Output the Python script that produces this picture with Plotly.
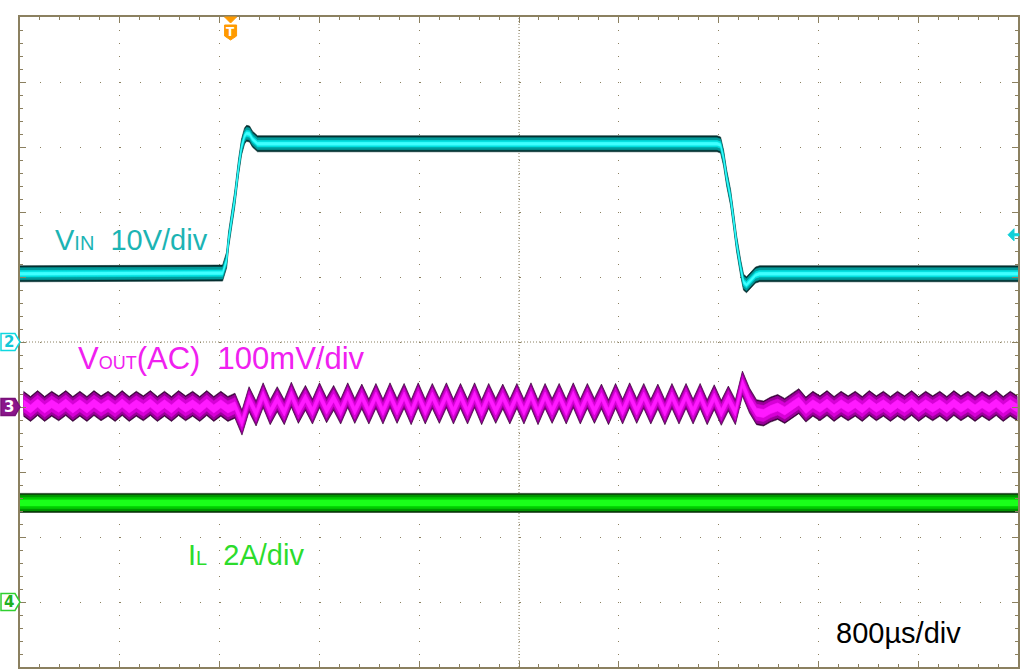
import plotly.graph_objects as go

# ---------------- scope settings ----------------
TIME_PER_DIV_US = 800.0
N_DIV_X = 10
N_DIV_Y = 10
T_LEFT_US = -1688.0                      # left screen edge relative to trigger
T_RIGHT_US = T_LEFT_US + N_DIV_X * TIME_PER_DIV_US

VIN_V_PER_DIV = 10.0
VIN_POS_DIV = 0.0
VOUT_MV_PER_DIV = 100.0
VOUT_POS_DIV = -1.0
IL_A_PER_DIV = 2.0
IL_POS_DIV = -4.0
TRIG_LEVEL_V = 16.5

vin_time_us = [-1688, -80, -64, -32, -16, 8, 32, 64, 88, 112, 128, 152, 176, 216,
               3900, 3928, 3952, 3976, 4008, 4032, 4056, 4088, 4112, 4136, 4168, 4208, 4240, 6312]
vin_v = [10.5, 10.5, 10.6, 12.6, 15.7, 18.8, 21.8, 26.9, 30.0, 31.7, 32.1, 32.0, 31.2, 30.5,
         30.5, 30.3, 28.3, 25.3, 22.2, 18.8, 15.2, 11.5, 9.2, 8.8, 9.5, 10.3, 10.5, 10.5]

vout_t0_us = -1660.0
vout_sample_us = 56.5
vout_mv = [
    5, -3, 6, -3, 5, -2, 6, -3, 5, -3, 6, -2, 5, -3, 6, -3, 5, -2, 6, -3, 5, -3, 6, -2, 5, -3, 6, -3, 5, -3,
    2, -24, 12, -10, 18, -8, 12, -8, 19, -6, 14, -7, 18, -5, 14, -7,
    18, -6, 16, -7, 17, -7, 18, -6, 17, -8, 18, -7, 17, -6, 18, -7,
    17, -7, 18, -8, 17, -6, 16, -7, 17, -7, 18, -8, 17, -6, 17, -7,
    18, -7, 17, -6, 16, -8, 17, -7, 18, -6, 17, -7, 16, -8, 17, -7,
    17, -7, 17, -8, 15, -9, 13, -8,
    36, 10, -8, -10, -4, 0, -6, 2, 9, -4,
    5, -2, 6, -3, 5, -2, 5, -3, 6, -2, 5, -3, 5, -2, 6, -3, 5, -2, 5, -3, 6, -2, 5, -3, 5, -2, 6, -3, 5, -2,
]
vout_time_us = [vout_t0_us + k * vout_sample_us for k in range(len(vout_mv))]

il_time_us = [T_LEFT_US, T_RIGHT_US]
il_a = [3.05, 3.05]

# ---------------- styling ----------------
FRAME = "#8b8060"
GRID = "#8b8060"
PLOT_W, PLOT_H = 1000, 650
ML, MT = 20, 17
PX_PER_DIV_Y = PLOT_H / N_DIV_Y
FONT = "Liberation Sans, Arial, sans-serif"

fig = go.Figure()


def add_band(t, ydiv, layers):
    for half_px, color in layers:
        h = half_px / PX_PER_DIV_Y
        fig.add_trace(go.Scatter(x=t, y=[v - h for v in ydiv], mode="lines",
                                 line=dict(width=0.6, color=color),
                                 hoverinfo="skip", showlegend=False))
        fig.add_trace(go.Scatter(x=t, y=[v + h for v in ydiv], mode="lines",
                                 line=dict(width=0.6, color=color), fill="tonexty",
                                 fillcolor=color, hoverinfo="skip", showlegend=False))


vin_div = [VIN_POS_DIV + v / VIN_V_PER_DIV for v in vin_v]
vout_div = [VOUT_POS_DIV + v / VOUT_MV_PER_DIV for v in vout_mv]
il_div = [IL_POS_DIV + v / IL_A_PER_DIV for v in il_a]

add_band(vin_time_us, vin_div, [(8.0, "#042f30"), (6.0, "#009c9c"), (3.2, "#00e0e0"), (1.4, "#40ffff")])
add_band(vout_time_us, vout_div, [(12.5, "#360036"), (11, "#9a009a"), (8, "#d600d6"), (4, "#ff1aff")])
add_band(il_time_us, il_div, [(9.5, "#082e08"), (8, "#009400"), (5.5, "#00cc00"), (3, "#1aff1a")])


def px2paper(x, y):
    return (x - ML) / PLOT_W, (MT + PLOT_H - y) / PLOT_H


annotations = []


def label(text, xpx, ypx, color, size=29):
    px, py = px2paper(xpx, ypx)
    annotations.append(dict(text=text, x=px, y=py, xref="paper", yref="paper",
                            xanchor="left", yanchor="middle", showarrow=False,
                            font=dict(family=FONT, size=size, color=color)))


label("V<span style='font-size:20px'>IN</span>\u00a0\u00a010V/div", 53, 240, "#1cb4b4")
label("V<span style='font-size:18px'>OUT</span>(AC)\u00a0\u00a0100mV/div", 76, 358, "#f020f0", size=31)
label("I<span style='font-size:20px'>L</span>\u00a0\u00a02A/div", 186, 555, "#2cdc2c")
label("800\u00b5s/div", 836, 633, "#000000")

shapes = []
T_CENTER = T_LEFT_US + N_DIV_X / 2 * TIME_PER_DIV_US
# dense dotted centre lines
shapes.append(dict(type="line", xref="x", yref="paper", x0=T_CENTER, x1=T_CENTER, y0=0, y1=1,
                   line=dict(color=GRID, width=1, dash="1px,2px"), layer="below"))
shapes.append(dict(type="line", xref="paper", yref="y", x0=0, x1=1, y0=0, y1=0,
                   line=dict(color=GRID, width=1, dash="1px,2px"), layer="below"))

# channel ground markers
PENT = "M -19,8.5 L -5,8.5 L 0,0 L -5,-8.5 L -19,-8.5 Z"
for pos, line_c, fill_c, txt, txt_c in [
    (VIN_POS_DIV, "#10d8e0", "white", "2", "#10c8d8"),
    (VOUT_POS_DIV, "#7a107a", "#8a168a", "3", "white"),
    (IL_POS_DIV, "#30d030", "white", "4", "#20b020"),
]:
    shapes.append(dict(type="path", xref="paper", yref="y", xsizemode="pixel", ysizemode="pixel",
                       xanchor=0, yanchor=pos, path=PENT, fillcolor=fill_c,
                       line=dict(color=line_c, width=1.5)))
    annotations.append(dict(text=txt, x=0, y=pos, xref="paper", yref="y", xshift=-11,
                            showarrow=False, xanchor="center", yanchor="middle",
                            font=dict(family="DejaVu Sans, sans-serif", size=15, color=txt_c, weight="bold")))

# trigger position marker
shapes.append(dict(type="path", xref="x", yref="paper", xsizemode="pixel", ysizemode="pixel",
                   xanchor=0, yanchor=1, path="M -6,0 L 6,0 L 0,-6 Z",
                   fillcolor="#ff9a00", line=dict(color="#ff9a00", width=1)))
shapes.append(dict(type="path", xref="x", yref="paper", xsizemode="pixel", ysizemode="pixel",
                   xanchor=0, yanchor=1, path="M -6,-8 L 6,-8 L 6,-19 L 0,-23 L -6,-19 Z",
                   fillcolor="#ff9a00", line=dict(color="#ff9a00", width=1)))
annotations.append(dict(text="T", x=0, y=1, xref="x", yref="paper", yshift=-15, showarrow=False,
                        xanchor="center", yanchor="middle",
                        font=dict(family="DejaVu Sans, sans-serif", size=12, color="white", weight="bold")))

# trigger level arrow (right edge)
shapes.append(dict(type="path", xref="paper", yref="y", xsizemode="pixel", ysizemode="pixel",
                   xanchor=1, yanchor=VIN_POS_DIV + TRIG_LEVEL_V / VIN_V_PER_DIV,
                   path="M -10,0 L -4,6 L -4,1 L 1,1 L 1,-1 L -4,-1 L -4,-6 Z",
                   fillcolor="#10d0d8", line=dict(color="#10d0d8", width=1)))

xr = [T_LEFT_US, T_RIGHT_US]
yr = [-N_DIV_Y / 2, N_DIV_Y / 2]
common_hidden = dict(showgrid=False, zeroline=False, showticklabels=False, showline=False,
                     fixedrange=True, tickcolor=GRID, ticklen=3, tickwidth=1)

fig.update_layout(
    width=1024, height=671,
    margin=dict(l=ML, r=1024 - ML - PLOT_W, t=MT, b=671 - MT - PLOT_H),
    paper_bgcolor="white", plot_bgcolor="white", showlegend=False,
    xaxis=dict(range=xr, tick0=T_LEFT_US, dtick=TIME_PER_DIV_US, showgrid=True,
               gridcolor=GRID, gridwidth=1, griddash="1px,12px",
               showline=True, linecolor=FRAME, linewidth=2, mirror="allticks",
               ticks="inside", ticklen=6, tickcolor=GRID, showticklabels=False,
               zeroline=False, fixedrange=True,
               minor=dict(tick0=T_LEFT_US, dtick=TIME_PER_DIV_US / 5, ticks="inside",
                          ticklen=3, tickcolor=GRID, showgrid=False)),
    yaxis=dict(range=yr, tick0=0, dtick=1, showgrid=True,
               gridcolor=GRID, gridwidth=1, griddash="1px,19px",
               showline=True, linecolor=FRAME, linewidth=2, mirror="allticks",
               ticks="inside", ticklen=6, tickcolor=GRID, showticklabels=False,
               zeroline=False, fixedrange=True,
               minor=dict(tick0=0, dtick=0.2, ticks="inside", ticklen=3,
                          tickcolor=GRID, showgrid=False)),
    xaxis2=dict(overlaying="x", anchor="free", position=0.5, side="bottom", range=xr,
                tick0=T_LEFT_US, dtick=TIME_PER_DIV_US / 5, ticks="outside", **common_hidden),
    xaxis3=dict(overlaying="x", anchor="free", position=0.5, side="top", range=xr,
                tick0=T_LEFT_US, dtick=TIME_PER_DIV_US / 5, ticks="outside", **common_hidden),
    yaxis2=dict(overlaying="y", anchor="free", position=0.5, side="left", range=yr,
                tick0=0, dtick=0.2, ticks="outside", **common_hidden),
    yaxis3=dict(overlaying="y", anchor="free", position=0.5, side="right", range=yr,
                tick0=0, dtick=0.2, ticks="outside", **common_hidden),
    shapes=shapes,
    annotations=annotations,
)

fig.write_html("out.html", config={"displayModeBar": False},
               post_script="document.body.style.margin='0';")
